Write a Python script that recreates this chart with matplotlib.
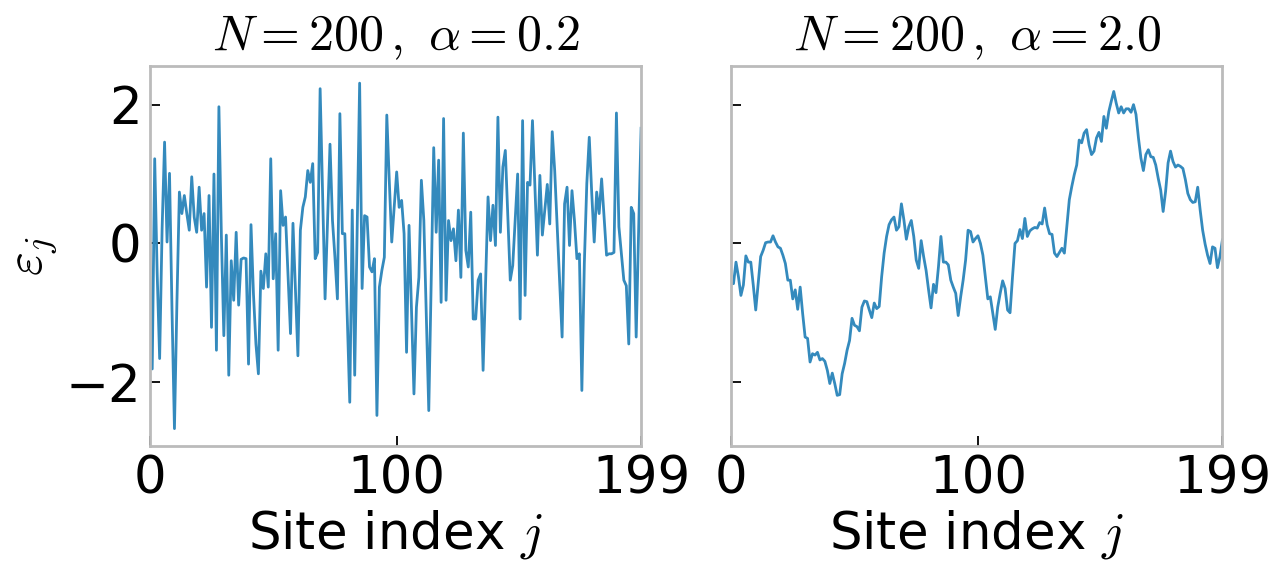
import numpy as np
import matplotlib
matplotlib.use("Agg")
import matplotlib.pyplot as plt

N = 200
alphas = [0.2, 2.0]

# on-site energies, alpha = 0.2 (nearly uncorrelated)
eps_a02 = [
    -0.49, -1.81, 1.22, -0.43, -1.66, 0.21, 1.46, 0.02, 1.01, -0.95,
    -2.67, -0.85, 0.74, 0.43, 0.69, 0.43, 0.19, 0.96, 0.38, 0.16,
    0.81, 0.19, 0.43, -0.63, 0.69, -1.21, 1.00, -1.54, 1.97, 0.12,
    -1.33, 0.12, -1.90, -0.25, -0.82, 0.16, -0.89, -0.23, -0.21, -0.22,
    -1.74, 0.27, -0.73, -1.45, -1.88, -0.40, -0.65, -0.15, -0.63, 1.22,
    -0.51, 0.14, -1.54, 0.76, 0.26, 0.38, -0.46, -1.30, 0.29, -0.68,
    -1.62, 0.19, 0.52, 0.67, 1.05, 0.88, 1.15, -0.22, -0.13, 2.23,
    0.72, -0.80, 0.33, 1.43, 0.33, -0.20, -0.80, 1.87, 0.14, 0.14,
    -1.06, -2.29, 0.48, -1.90, 0.24, 2.31, -0.65, 0.40, 0.38, -0.34,
    -0.41, -0.22, -2.48, -0.63, -0.39, -0.20, 1.85, 0.91, 0.02, 0.52,
    1.03, 0.52, 0.62, 0.14, -1.57, 0.26, -0.97, -2.17, -0.92, -0.49,
    0.91, 0.33, -1.01, -2.41, -0.53, 1.38, 0.16, 1.20, -0.85, 1.80,
    -0.82, 0.33, 0.04, 0.21, -0.25, 0.48, -0.49, 1.59, -0.10, -0.34,
    0.45, -1.09, -1.09, -0.53, -0.44, -1.83, -0.58, 0.67, 0.04, 0.55,
    -0.03, 1.82, 0.16, 1.10, 1.34, 0.40, -0.53, -0.32, 0.33, 1.00,
    -1.09, 1.77, -0.75, 0.88, 0.84, 1.77, 0.81, -0.17, 0.98, 0.12,
    0.48, 0.85, 0.28, 1.61, 1.05, 0.24, -0.58, -1.35, 0.57, 0.81,
    -0.03, 0.76, 0.33, -0.22, -0.15, -2.12, -0.29, 0.86, 1.53, 0.72,
    0.02, 0.74, 0.43, 0.93, 0.38, -0.17, -0.15, -0.15, -0.13, 1.88,
    0.24, -0.15, -0.53, -0.61, -1.45, 0.52, 0.43, -1.35, 0.20, 1.66,
]

# alpha = 2.0 (strongly correlated, random-walk like)
eps_a20 = [
    -0.58, -0.58, -0.27, -0.48, -0.75, -0.60, -0.18, -0.27, -0.27, -0.60,
    -0.96, -0.58, -0.19, -0.10, 0.01, 0.02, 0.02, 0.11, 0.02, -0.05,
    -0.07, -0.17, -0.29, -0.53, -0.53, -0.80, -0.67, -0.95, -0.63, -1.01,
    -1.35, -1.37, -1.71, -1.59, -1.61, -1.57, -1.68, -1.66, -1.70, -1.83,
    -2.02, -1.87, -2.02, -2.19, -2.18, -1.88, -1.73, -1.54, -1.40, -1.08,
    -1.18, -1.20, -1.26, -0.92, -0.83, -0.84, -0.96, -1.07, -0.86, -0.94,
    -0.91, -0.48, -0.14, 0.10, 0.27, 0.34, 0.38, 0.19, 0.24, 0.57,
    0.34, 0.06, 0.24, 0.33, 0.10, -0.24, -0.36, 0.04, -0.19, -0.39,
    -0.67, -0.93, -0.59, -0.71, -0.34, 0.10, -0.27, -0.27, -0.31, -0.53,
    -0.63, -0.72, -1.04, -0.77, -0.53, -0.24, 0.19, 0.17, 0.02, 0.07,
    0.11, 0.00, -0.17, -0.48, -0.80, -0.77, -1.01, -1.24, -0.92, -0.72,
    -0.54, -0.65, -0.96, -1.00, -0.48, 0.00, 0.04, 0.20, 0.07, 0.36,
    0.10, 0.18, 0.21, 0.23, 0.22, 0.30, 0.28, 0.51, 0.27, 0.14,
    0.13, -0.14, -0.19, -0.13, -0.07, -0.14, 0.24, 0.63, 0.82, 0.99,
    1.13, 1.49, 1.45, 1.59, 1.64, 1.42, 1.28, 1.33, 1.52, 1.60,
    1.47, 1.83, 1.66, 1.90, 2.05, 2.19, 2.02, 1.88, 1.97, 1.88,
    1.94, 1.94, 1.89, 2.00, 1.86, 1.52, 1.23, 1.05, 1.28, 1.35,
    1.25, 1.24, 1.13, 0.94, 0.77, 0.46, 0.75, 1.16, 1.33, 1.18,
    1.10, 1.13, 1.11, 1.08, 0.92, 0.72, 0.63, 0.59, 0.60, 0.81,
    0.48, 0.19, -0.01, -0.17, -0.29, -0.05, -0.07, -0.35, -0.19, 0.05,
]

xticks = [0, 100, 199]

plt.rcParams['mathtext.fontset'] = 'cm'
plt.rcParams['font.size'] = 37

fig, axes = plt.subplots(1, 2, figsize=(12.8, 5.63), dpi=100, sharey=True)
fig.subplots_adjust(left=0.117, right=0.955, bottom=0.208, top=0.883, wspace=0.183)

sites = np.arange(N)
for ax, alpha, eps in zip(axes, alphas, [eps_a02, eps_a20]):
    ax.plot(sites, eps, color='#348ABD', lw=2.0)
    ax.set_xlim(0, N - 1)
    ax.set_xticks(xticks)
    ax.set_title(r'$N=%d\,,\ \alpha=%.1f$' % (N, alpha), fontsize=36, pad=11)
    ax.set_xlabel(r'Site index $j$', labelpad=3)
    for s in ax.spines.values():
        s.set_color('#bbbbbb')
        s.set_linewidth(2.0)
    ax.tick_params(direction='in', length=7, width=1.3, labelsize=37, pad=6)

axes[0].set_yticks([-2, 0, 2])
axes[0].set_ylabel(r'$\varepsilon_j$', labelpad=4)
axes[1].tick_params(labelleft=False)

fig.savefig('out.png', dpi=100)
